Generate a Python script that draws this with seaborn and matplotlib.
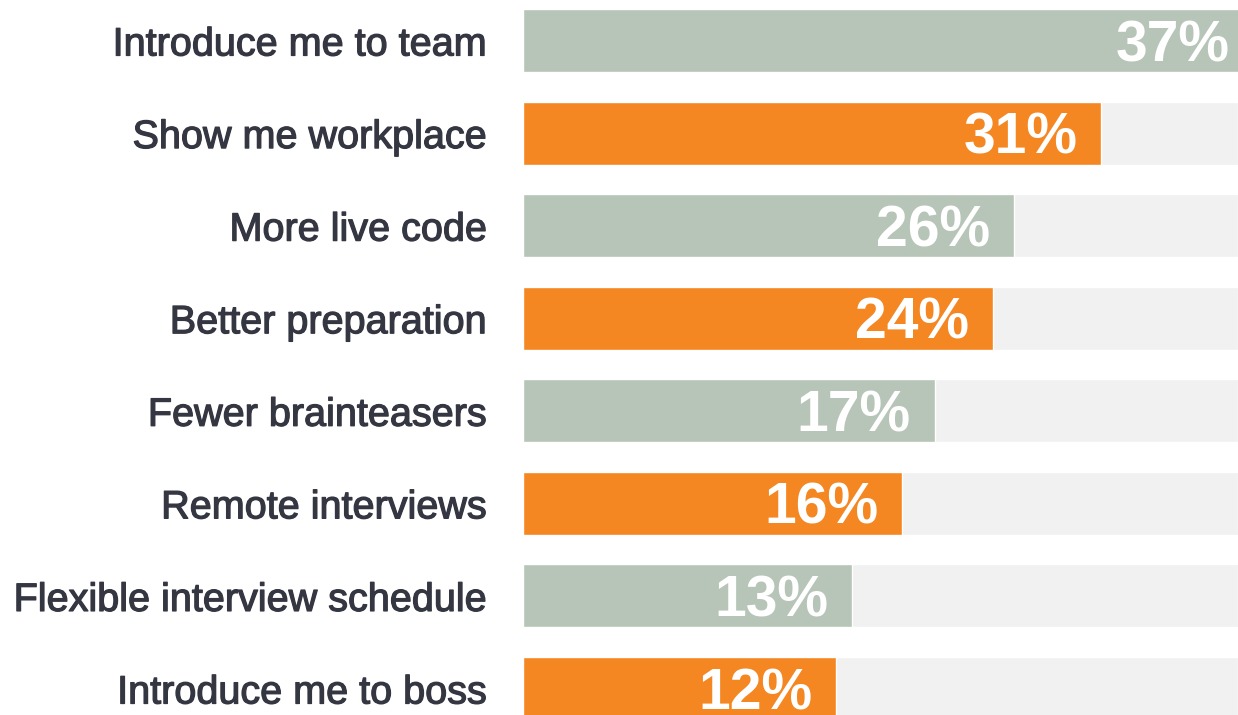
import matplotlib
matplotlib.use("Agg")
import matplotlib.pyplot as plt
import matplotlib.patheffects as pe
import pandas as pd
import seaborn as sns

# データ
categories = [
    "Introduce me to team",
    "Show me workplace",
    "More live code",
    "Better preparation",
    "Fewer brainteasers",
    "Remote interviews",
    "Flexible interview schedule",
    "Introduce me to boss",
]
pct_labels = ["37%", "31%", "26%", "24%", "17%", "16%", "13%", "12%"]
# バーの長さ（トラック全体 = 37 として読み取った値、先頭は右端で切れている）
bar_lengths = [37.8, 29.9, 25.4, 24.3, 21.3, 19.6, 17.0, 16.2]
track_max = 37.0
groups = ["a", "b", "a", "b", "a", "b", "a", "b"]

SAGE = "#B7C5B8"
ORANGE = "#F48722"
TRACK = "#F0F1F0"
TEXT = "#343641"

sns.set_theme(style="white")
plt.rcParams["font.family"] = ["Liberation Sans", "DejaVu Sans"]

df = pd.DataFrame({"category": categories, "length": bar_lengths,
                   "group": groups, "label": pct_labels})
df["track"] = track_max

fig = plt.figure(figsize=(12.38, 7.15), dpi=100)
ax = fig.add_axes([523 / 1238, 0, 1 - 523 / 1238, 1])

sns.barplot(data=df, x="track", y="category", color=TRACK, width=0.68,
            saturation=1, ax=ax)
sns.barplot(data=df, x="length", y="category", hue="group",
            palette={"a": SAGE, "b": ORANGE}, width=0.68, saturation=1,
            dodge=False, legend=False, ax=ax)

# パーセント表示（バー右端の内側、白の太字）
for i, row in df.iterrows():
    ax.annotate(row["label"], xy=(row["length"], i), xytext=(-17, -14.8),
                textcoords="offset points", ha="right", va="baseline",
                color="white", fontsize=41, fontweight="bold",
                annotation_clip=False)

ax.set_xlim(0, track_max)
ax.set_ylim(7 + 26.5 / 92.6, -40.5 / 92.6)
ax.set_xlabel("")
ax.set_ylabel("")
ax.set_xticks([])
ax.tick_params(axis="y", length=0, pad=26, labelsize=28.5, labelcolor=TEXT)
for lab in ax.get_yticklabels():
    lab.set_path_effects([pe.withStroke(linewidth=0.9, foreground=TEXT)])
sns.despine(ax=ax, left=True, bottom=True)

fig.savefig("out.png", dpi=100)
plt.close(fig)
